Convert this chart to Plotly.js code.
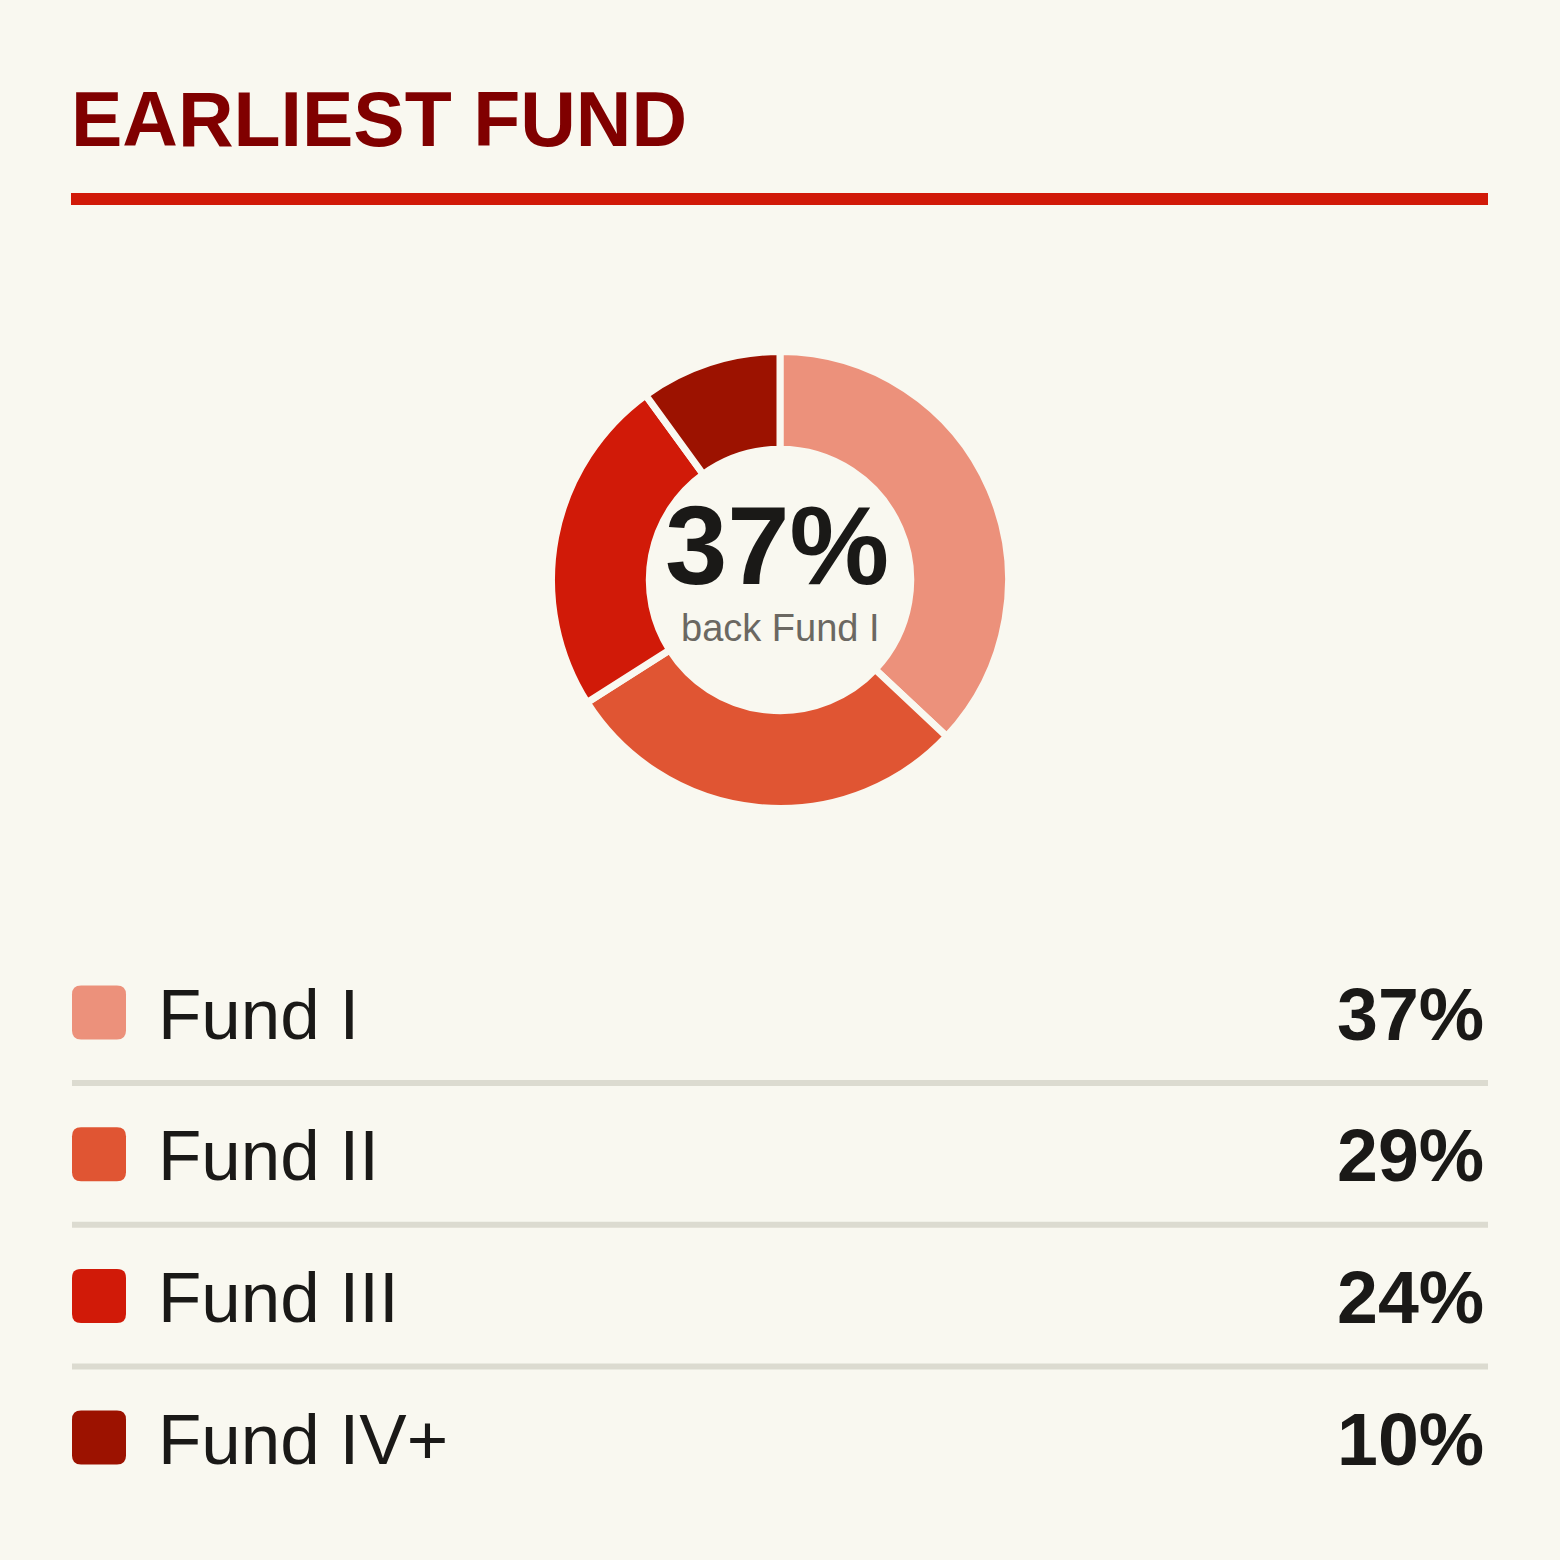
<!DOCTYPE html>
<html>
<head>
<meta charset="utf-8">
<script src="https://cdn.plot.ly/plotly-3.0.1.min.js"></script>
<style>
  html, body { margin: 0; padding: 0; background: #f9f8f0; }
  #plot { width: 1560px; height: 1560px; }
</style>
</head>
<body>
<div id="plot"></div>
<script>
const chartTitle = 'EARLIEST FUND'
const categories = ['Fund I', 'Fund II', 'Fund III', 'Fund IV+']
const shares = [37, 29, 24, 10]
const sliceColors = ['#ec917b', '#e05533', '#d11a08', '#9c1200']
const centerValue = '37%'
const centerLabel = 'back Fund I'

const W = 1560, H = 1560
const bg = '#f9f8f0'
const ink = '#1a1917'
const font = 'Liberation Sans, Arial, sans-serif'

// donut box in pixels (slice outline eats a few px of the edge)
const cx = 780, cy = 580, R = 228.5

// legend rows
const rowTop = 1014, rowStep = 141.7
const sw = 54, corner = 9

function roundedSquare(x0, y0, s, r) {
  const x1 = x0 + s, y1 = y0 + s
  return `M${x0 + r},${y0} L${x1 - r},${y0} Q${x1},${y0} ${x1},${y0 + r} ` +
    `L${x1},${y1 - r} Q${x1},${y1} ${x1 - r},${y1} L${x0 + r},${y1} ` +
    `Q${x0},${y1} ${x0},${y1 - r} L${x0},${y0 + r} Q${x0},${y0} ${x0 + r},${y0} Z`
}

const shapes = [
  // red rule under the title
  { type: 'rect', xref: 'x', yref: 'y', x0: 71, x1: 1488, y0: 193, y1: 205,
    fillcolor: '#d11a08', line: { width: 0 }, layer: 'below' }
]
const annotations = [
  { text: chartTitle, x: 69, y: 119, xanchor: 'left', yanchor: 'middle',
    font: { family: font, size: 77, weight: 'bold', color: '#800000' } },
  { text: centerValue, x: 777, y: 545, xanchor: 'center', yanchor: 'middle',
    font: { family: font, size: 112, weight: 'bold', color: ink } },
  { text: centerLabel, x: 780, y: 628, xanchor: 'center', yanchor: 'middle',
    font: { family: font, size: 38, color: '#6b6862' } }
]

categories.forEach((name, i) => {
  const y = rowTop + i * rowStep
  shapes.push({ type: 'path', xref: 'x', yref: 'y',
    path: roundedSquare(72, y - 1.5 - sw / 2, sw, corner),
    fillcolor: sliceColors[i], line: { width: 0 } })
  if (i < categories.length - 1) {
    shapes.push({ type: 'rect', xref: 'x', yref: 'y', x0: 72, x1: 1488,
      y0: y + 66, y1: y + 72, fillcolor: '#dcdbd0', line: { width: 0 } })
  }
  annotations.push({ text: name, x: 156, y: y, xanchor: 'left', yanchor: 'middle',
    font: { family: font, size: 71, color: ink } })
  annotations.push({ text: shares[i] + '%', x: 1486, y: y, xanchor: 'right', yanchor: 'middle',
    font: { family: font, size: 73.5, weight: 'bold', color: ink } })
})
annotations.forEach(a => { a.xref = 'x'; a.yref = 'y'; a.showarrow = false })

const donut = {
  type: 'pie',
  labels: categories,
  values: shares,
  sort: false,
  direction: 'clockwise',
  rotation: 0,
  hole: 0.572,
  textinfo: 'none',
  hoverinfo: 'none',
  showlegend: false,
  marker: { colors: sliceColors, line: { color: bg, width: 7 } },
  domain: { x: [(cx - R) / W, (cx + R) / W], y: [1 - (cy + R) / H, 1 - (cy - R) / H] }
}

const layout = {
  width: W,
  height: H,
  margin: { l: 0, r: 0, t: 0, b: 0 },
  paper_bgcolor: bg,
  plot_bgcolor: 'rgba(0,0,0,0)',
  xaxis: { range: [0, W], visible: false, fixedrange: true },
  yaxis: { range: [H, 0], visible: false, fixedrange: true },
  shapes: shapes,
  annotations: annotations
}

Plotly.newPlot('plot', [donut], layout, { staticPlot: true })
</script>
</body>
</html>
